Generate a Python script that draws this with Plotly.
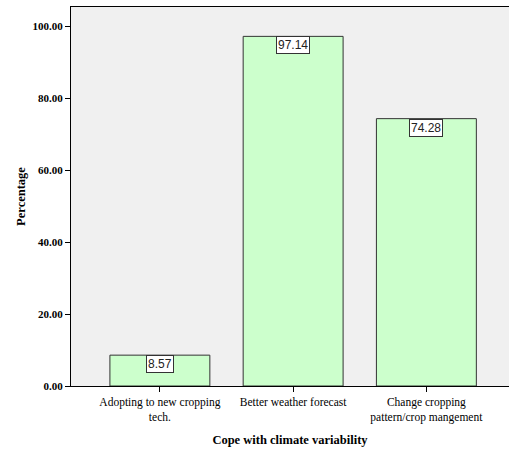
import plotly.graph_objects as go

categories = [
    "Adopting to new cropping<br>tech.",
    "Better weather forecast",
    "Change cropping<br>pattern/crop mangement",
]
percentages = [8.57, 97.14, 74.28]
y_ticks = [0, 20, 40, 60, 80, 100]

serif = "Liberation Serif, Times New Roman, serif"

fig = go.Figure()
fig.add_trace(go.Bar(
    x=list(range(len(categories))),
    y=percentages,
    width=0.75,
    marker=dict(color="#CCFFCC", line=dict(color="#333333", width=1)),
    hoverinfo="skip",
))

# value labels in white boxes hanging from the top of each bar
for i, v in enumerate(percentages):
    fig.add_annotation(
        x=i, y=v, text=f"{v:.2f}", showarrow=False,
        yanchor="top", xanchor="center",
        font=dict(family="Liberation Sans, Arial, sans-serif", size=12, color="#222222"),
        bgcolor="white", bordercolor="#333333", borderwidth=1, borderpad=1,
    )

fig.update_layout(
    width=509, height=449,
    margin=dict(l=71, r=0, t=7, b=63),
    paper_bgcolor="white",
    plot_bgcolor="#F0F0F0",
    showlegend=False,
    xaxis=dict(
        range=[-0.667, 2.62],
        tickmode="array",
        tickvals=list(range(len(categories))),
        ticktext=categories,
        ticks="outside", ticklen=5, tickcolor="black",
        showline=True, linecolor="black", linewidth=1, mirror=True,
        showgrid=False, zeroline=False,
        tickfont=dict(family=serif, size=11.5, color="black"),
        title=dict(text="<b>Cope with climate variability</b>",
                   font=dict(family=serif, size=12.5, color="black"), standoff=12),
    ),
    yaxis=dict(
        range=[0, 105.3],
        tickmode="array",
        tickvals=y_ticks,
        tickformat=".2f",
        ticks="outside", ticklen=5, tickcolor="black",
        showline=True, linecolor="black", linewidth=1,
        showgrid=False, zeroline=False,
        tickfont=dict(family=serif, size=11, color="black", weight="bold"),
        title=dict(text="<b>Percentage</b>",
                   font=dict(family=serif, size=12.5, color="black"), standoff=4),
    ),
)

fig.write_html("out.html")
